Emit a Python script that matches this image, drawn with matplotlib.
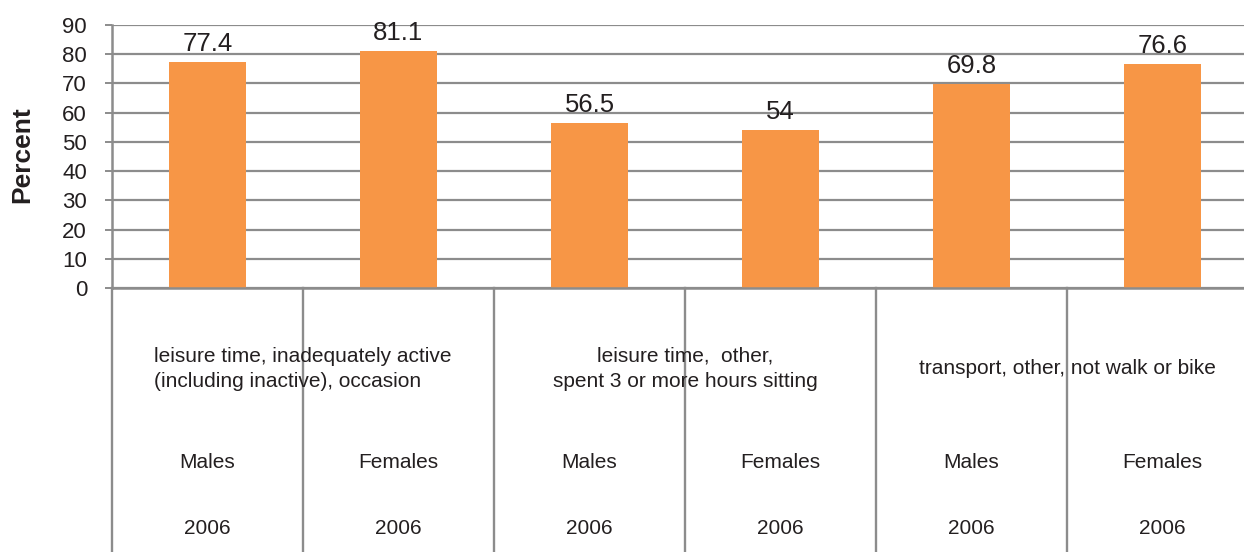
import matplotlib.pyplot as plt

plt.rcParams['font.family'] = ['Liberation Sans', 'DejaVu Sans']

# data
sexes = ["Males", "Females", "Males", "Females", "Males", "Females"]
years = ["2006", "2006", "2006", "2006", "2006", "2006"]
groups = ["leisure time, inadequately active\n(including inactive), occasion",
          "leisure time,  other,\nspent 3 or more hours sitting",
          "transport, other, not walk or bike"]
values = [77.4, 81.1, 56.5, 54, 69.8, 76.6]

bar_color = "#F79646"
grid_color = "#8c8c8c"
text_color = "#231f20"

W, H = 1244, 552
fig = plt.figure(figsize=(W / 100, H / 100), dpi=100)

# plot area in pixels
left, right, top, zero = 112, 1258, 25, 288
ax = fig.add_axes([left / W, 1 - zero / H, (right - left) / W, (zero - top) / H])

x = list(range(len(values)))
ax.bar(x, values, width=0.4, color=bar_color, zorder=2)
for xi, v in zip(x, values):
    ax.annotate(f"{v:g}", (xi, v), xytext=(0, 8), textcoords="offset points",
                ha="center", va="baseline", fontsize=18.5, color=text_color, zorder=3)

ax.set_xlim(-0.5, len(values) - 0.5)
ax.set_ylim(0, 90)
ax.set_yticks(range(0, 91, 10))
ax.yaxis.grid(True, color=grid_color, linewidth=1.6, zorder=0)
ax.set_axisbelow(True)
ax.set_xticks([])
ax.tick_params(axis="y", length=5, width=1.4, color=grid_color, pad=13,
               labelsize=16, labelcolor=text_color)
for s in ["top", "right"]:
    ax.spines[s].set_visible(False)
for s in ["left", "bottom"]:
    ax.spines[s].set_color(grid_color)
    ax.spines[s].set_linewidth(1.8)

fig.text(22 / W, 1 - 155 / H, "Percent", rotation=90, ha="center", va="center",
         fontsize=19, fontweight="bold", color=text_color)

# category table below the axis
tab = fig.add_axes([left / W, 0, (right - left) / W, (H - zero) / H])
tab.set_xlim(-0.5, len(values) - 0.5)
tab.set_ylim(0, 1)
tab.axis("off")
for b in range(len(values) + 1):
    tab.axvline(b - 0.5, color=grid_color, linewidth=1.7, clip_on=False)

row_group = 1 - (369 - zero) / (H - zero)
row_sex = 1 - (462 - zero) / (H - zero)
row_year = 1 - (528 - zero) / (H - zero)

aligns = ["left", "center", "center"]
for gi, (g, al) in enumerate(zip(groups, aligns)):
    tab.text(2 * gi + 0.5, row_group, g, ha="center", va="center", multialignment=al,
             fontsize=15, color=text_color, linespacing=1.4)
for xi, (s, yr) in enumerate(zip(sexes, years)):
    tab.text(xi, row_sex, s, ha="center", va="center", fontsize=15, color=text_color)
    tab.text(xi, row_year, yr, ha="center", va="center", fontsize=15, color=text_color)

fig.savefig("out.png", dpi=100)
